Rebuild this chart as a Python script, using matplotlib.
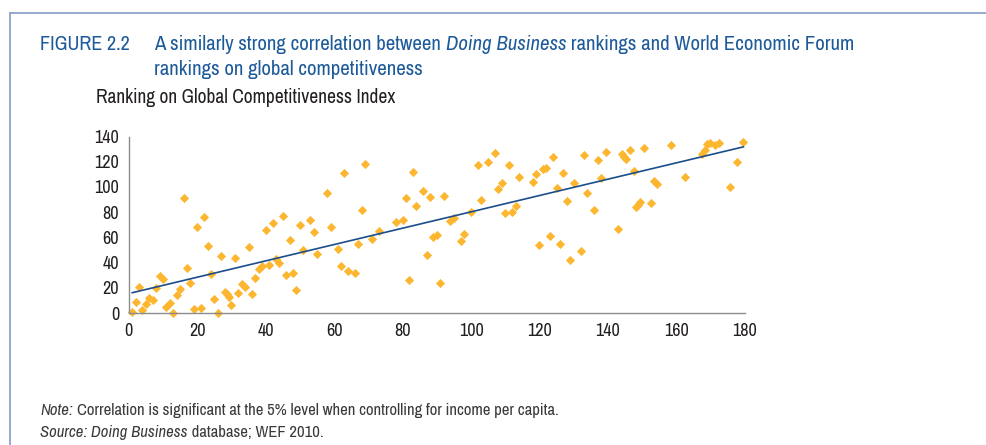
import numpy as np
import matplotlib
matplotlib.use('Agg')
import matplotlib.pyplot as plt
from matplotlib.lines import Line2D

# Doing Business ranking (x) vs Global Competitiveness Index ranking (y)
db_rank = [1, 2, 3, 4, 5, 6, 7, 8, 9, 10, 11, 12, 13, 14, 15, 16, 17, 18, 19, 20,
           21, 22, 23, 24, 25, 26, 27, 28, 28.8, 29.4, 30, 31, 32, 33, 34, 35, 36, 37, 38, 39,
           40, 41, 42, 43, 44, 45, 46, 47, 48, 49, 50, 51, 53, 54, 55, 58, 59, 61, 62, 63,
           64, 66, 67, 68, 69, 71, 73, 78, 80, 81, 82, 83, 84, 86, 87, 88, 89, 90, 91, 92,
           94, 95, 97, 98, 100, 102, 103, 105, 107, 108, 109, 110, 111, 112, 113, 114,
           118, 119, 120, 121, 122, 123, 124, 125, 126, 127, 128, 129, 130, 132, 133, 134,
           136, 137, 138, 139.5, 143, 144.2, 144.8, 145.4, 146.5, 147.5, 148.3, 148.8, 149.3,
           150.5, 152.5, 153.5, 154.3, 158.5, 162.5, 167.5, 168.3, 169.1, 169.8, 171.4,
           172.6, 175.7, 177.7, 179.6]
gci_rank = [1, 9, 21, 2, 7, 12, 10, 20, 29, 27, 5, 8, 0, 14, 19, 91, 36, 24, 3, 68,
            4, 76, 53, 31, 11, 0, 45, 17, 15, 13, 6, 44, 16, 23, 21, 52, 15, 28, 35, 37,
            66, 38, 71, 43, 40, 77, 30, 58, 32, 18, 70, 50, 74, 64, 47, 95, 68, 51, 37, 111,
            33, 32, 55, 82, 118, 59, 65, 72, 74, 91, 26, 112, 85, 97, 46, 92, 60, 62, 24, 93,
            73, 75, 57, 63, 80, 117, 90, 120, 127, 98, 103, 79, 117, 80, 85, 108,
            104, 110, 54, 114, 115, 61, 124, 99, 55, 111, 89, 42, 103, 49, 125, 95,
            82, 121, 107, 128, 67, 126, 124, 122, 129, 113, 84, 86, 88,
            131, 87, 105, 102, 133, 108, 126, 129, 134, 135, 133,
            135, 100, 120, 136]

x_ticks = [0, 20, 40, 60, 80, 100, 120, 140, 160, 180]
y_ticks = [0, 20, 40, 60, 80, 100, 120, 140]

# original uses a condensed face
plt.rcParams['font.family'] = ['Archivo Narrow', 'Liberation Sans Narrow', 'DejaVu Sans']

W, H = 987, 445
fig = plt.figure(figsize=(W / 100, H / 100), dpi=100)

# frame lines (top and left)
fig.add_artist(Line2D([10 / W, 1], [1 - 12.5 / H, 1 - 12.5 / H], color='#8fa3c9', lw=1.3))
fig.add_artist(Line2D([10.5 / W, 10.5 / W], [0, 1 - 12.5 / H], color='#8fa3c9', lw=1.3))

ax = fig.add_axes([128.8 / W, 1 - 313 / H, 616 / W, 176.5 / H])
ax.scatter(db_rank, gci_rank, marker='D', s=22, color='#fdb62f', linewidths=0, zorder=2, clip_on=False)

coef = np.polyfit(db_rank, gci_rank, 1)
xs = np.array([min(db_rank), max(db_rank)])
ax.plot(xs, np.polyval(coef, xs), color='#1b4e8a', lw=1.2, zorder=3)

ax.set_xlim(0, 180)
ax.set_ylim(0, 140)
ax.set_xticks(x_ticks)
ax.set_yticks(y_ticks)
ax.tick_params(length=0, labelsize=13, colors='#231f20', pad=7)
for s in ['top', 'right']:
    ax.spines[s].set_visible(False)
for s in ['left', 'bottom']:
    ax.spines[s].set_color('#8c8c8c')
    ax.spines[s].set_linewidth(1)

blue = '#1d5a9a'
fig.text(40 / W, 1 - 50 / H, 'FIGURE 2.2', fontsize=14.5, color=blue, va='baseline')
a1 = fig.text(154 / W, 1 - 50 / H, 'A similarly strong correlation between ', fontsize=15,
              color=blue, va='baseline')
a2 = plt.annotate('Doing Business', xy=(1, 0), xycoords=a1, fontsize=15, color=blue,
                  style='italic', va='bottom', annotation_clip=False)
a3 = plt.annotate(' rankings and World Economic Forum', xy=(1, 0), xycoords=a2, fontsize=15,
                  color=blue, va='bottom', annotation_clip=False)
fig.text(154 / W, 1 - 75 / H, 'rankings on global competitiveness', fontsize=15, color=blue,
         va='baseline')
fig.text(96 / W, 1 - 103 / H, 'Ranking on Global Competitiveness Index', fontsize=14,
         color='#231f20', va='baseline')

grey = '#3a3a3a'
n1 = fig.text(40 / W, 1 - 415 / H, 'Note:', fontsize=12, color=grey, style='italic',
              va='baseline')
plt.annotate('Correlation is significant at the 5% level when controlling for income per capita.',
             xy=(1, 0), xytext=(3, 0), textcoords='offset points', xycoords=n1, fontsize=12,
             color=grey, va='bottom', annotation_clip=False)
s1 = fig.text(40 / W, 1 - 437 / H, 'Source: Doing Business', fontsize=12, color=grey,
              style='italic', va='baseline')
plt.annotate(' database; WEF 2010.', xy=(1, 0), xycoords=s1, fontsize=12, color=grey,
             va='bottom', annotation_clip=False)

fig.savefig('out.png', dpi=100)
